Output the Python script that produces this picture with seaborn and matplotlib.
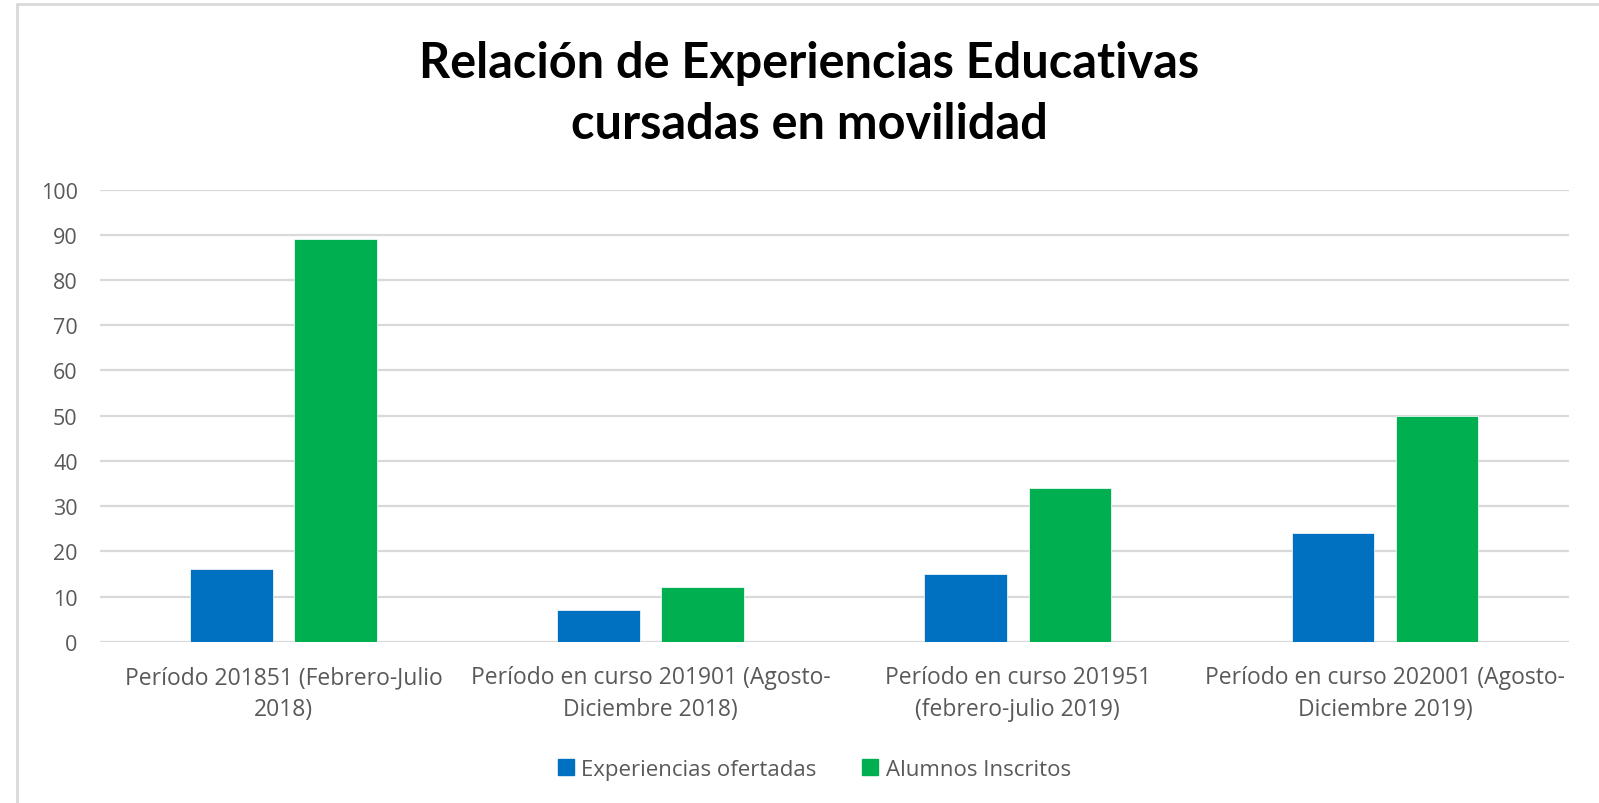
import pandas as pd
import seaborn as sns
import matplotlib.pyplot as plt
from matplotlib.lines import Line2D

# Data
periods = [
    'Período 201851 (Febrero-Julio\n2018)',
    'Período en curso 201901 (Agosto-\nDiciembre 2018)',
    'Período en curso 201951\n(febrero-julio 2019)',
    'Período en curso 202001 (Agosto-\nDiciembre 2019)',
]
experiencias = [16, 7, 15, 24]
alumnos = [89, 12, 34, 50]
series_names = ['Experiencias ofertadas', 'Alumnos Inscritos']
colors = ['#0070C0', '#00B050']

df = pd.DataFrame({
    'Periodo': periods * 2,
    'Serie': [series_names[0]] * 4 + [series_names[1]] * 4,
    'Valor': experiencias + alumnos,
})

sns.set_style('white')
plt.rcParams['font.family'] = ['Open Sans', 'DejaVu Sans']

fig = plt.figure(figsize=(15.99, 8.04), dpi=100)
ax = fig.add_axes([0.0625, 0.2006, 0.9185, 0.5624])

sns.barplot(data=df, x='Periodo', y='Valor', hue='Serie', palette=colors,
            width=0.567, gap=0.205, ax=ax, saturation=1, legend=False,
            edgecolor='white', linewidth=0.5, zorder=3)

ax.set_ylim(0, 100)
ax.set_yticks(range(0, 101, 10))
ax.set_xlim(-0.5, 3.5)
ax.yaxis.grid(True, color='#D9D9D9', linewidth=1.6, zorder=0)
ax.set_axisbelow(True)
for side in ['top', 'right', 'left', 'bottom']:
    ax.spines[side].set_visible(False)
ax.set_xlabel('')
ax.set_ylabel('')
ax.tick_params(axis='both', length=0, colors='#595959')
ax.tick_params(axis='y', pad=16, labelsize=15.5)
ax.tick_params(axis='x', pad=17, labelsize=16.5)
for lbl in ax.get_xticklabels():
    lbl.set_linespacing(1.42)

fig.text(0.506, 0.883, 'Relación de Experiencias Educativas\ncursadas en movilidad',
         ha='center', va='center', fontsize=35, fontweight='bold',
         family=['Lato', 'DejaVu Sans'], color='black', linespacing=1.43)

handles = [Line2D([0], [0], marker='s', linestyle='', markersize=11,
                  markerfacecolor=c, markeredgecolor=c) for c in colors]
fig.legend(handles, series_names, loc='center', bbox_to_anchor=(0.509, 0.042),
           ncol=2, frameon=False, fontsize=16, labelcolor='#595959',
           handletextpad=0.3, columnspacing=2.0, handlelength=0.8)

# outer frame
fig.add_artist(Line2D([17 / 1599, 1], [1 - 4.5 / 804, 1 - 4.5 / 804],
                      color='#D9D9D9', linewidth=2, transform=fig.transFigure))
fig.add_artist(Line2D([17 / 1599, 17 / 1599], [0, 1 - 4.5 / 804],
                      color='#D9D9D9', linewidth=2, transform=fig.transFigure))

fig.savefig('out.png', dpi=100, facecolor='white')
